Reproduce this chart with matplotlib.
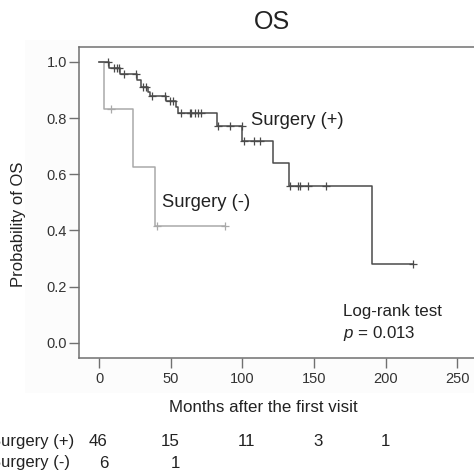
import numpy as np
import matplotlib
matplotlib.use("Agg")
import matplotlib.pyplot as plt
from matplotlib.patches import Rectangle
import matplotlib.transforms as mtransforms

plt.rcParams['font.family'] = ['Liberation Sans', 'DejaVu Sans']
plt.rcParams['mathtext.fontset'] = 'custom'
plt.rcParams['mathtext.it'] = 'Liberation Sans:italic'
plt.rcParams['mathtext.rm'] = 'Liberation Sans'

# ---- data ----
plus_times = [0, 6.6, 14.6, 26.2, 29.4, 34.0, 35.8, 46.5, 53.5, 55.4, 82.6, 100.0, 121.7, 132.4, 190.7]
plus_surv = [1.0, 0.978, 0.957, 0.936, 0.912, 0.894, 0.880, 0.861, 0.841, 0.817, 0.773, 0.720, 0.639, 0.559, 0.280]
plus_end = 219.3
plus_censor = [6.3, 10.7, 12.6, 14.2, 17.5, 25.6, 30.9, 32.6, 36.7, 46.0, 49.5, 51.9,
               57.2, 63.5, 64.2, 67.0, 69.3, 71.2, 83.3, 91.4, 99.8, 101.5, 107.8, 112.4,
               133.3, 138.7, 140.3, 146.1, 158.4, 219.3]

minus_times = [0, 3.7, 23.7, 38.9]
minus_surv = [1.0, 0.833, 0.625, 0.417]
minus_end = 87.9
minus_censor = [8.4, 40.5, 87.9]

risk_times = [0, 50, 100, 150, 200]
risk_plus = ['46', '15', '11', '3', '1']
risk_minus = ['6', '1']
yticks = [0.0, 0.2, 0.4, 0.6, 0.8, 1.0]
xticks = [0, 50, 100, 150, 200, 250]

W, H = 474, 475
fig = plt.figure(figsize=(W / 100, H / 100), dpi=100)
bg = Rectangle((25 / W, 1 - 393 / H), 1, (393 - 40) / H,
               transform=fig.transFigure, facecolor='#fcfcfc',
               edgecolor='none', zorder=-5)
fig.add_artist(bg)

ax = fig.add_axes([78.7 / W, 1 - 358 / H, (480 - 78.7) / W, (358 - 46.7) / H])
ax.set_zorder(2)
ax.set_xlim(-14.2, (480 - 99) / 1.433)
ax.set_ylim(-0.0545, 1.0545)

def km(ax, times, surv, end, censor, color):
    t = list(times) + [end]
    s = list(surv) + [surv[-1]]
    ax.step(t, s, where='post', color=color, lw=1.1, zorder=3)
    idx = np.searchsorted(times, censor, side='right') - 1
    cy = np.array(surv)[idx]
    ax.plot(censor, cy, linestyle='none', marker='+', ms=6, mew=0.9, color=color, zorder=4)

km(ax, minus_times, minus_surv, minus_end, minus_censor, '#a9a9a9')
km(ax, plus_times, plus_surv, plus_end, plus_censor, '#4a4a4a')

spc = '#707070'
for s in ['left', 'bottom', 'top']:
    ax.spines[s].set_color(spc)
    ax.spines[s].set_linewidth(1.1)
ax.spines['right'].set_visible(False)

ax.set_yticks(yticks)
ax.set_yticklabels([f'{v:.1f}' for v in yticks])
ax.set_xticks(xticks)
ax.set_xticklabels([str(v) for v in xticks])
ax.tick_params(axis='y', length=7.5, width=1.0, color=spc, labelsize=10.5, pad=1, labelcolor='#333333')
ax.tick_params(axis='x', length=7, width=1.0, color=spc, labelsize=10.5, pad=3, labelcolor='#333333')

ax.text(105.8, 0.791, 'Surgery (+)', fontsize=13.2, va='center', ha='left', color='#222222')
ax.text(43.7, 0.50, 'Surgery (-)', fontsize=13.2, va='center', ha='left', color='#222222')
ax.text(170.5, 0.110, 'Log-rank test', fontsize=12.2, va='center', ha='left', color='#222222')
ax.text(170.5, 0.033, r'$\it{p}$ = 0.013', fontsize=12.2, va='center', ha='left', color='#222222')

fig.text(272 / W, 1 - 22 / H, 'OS', fontsize=18, ha='center', va='center', color='#222222')
fig.text(19 / W, 1 - 224 / H, 'Probability of OS', fontsize=12, rotation=90,
         ha='center', va='center', color='#222222')
fig.text(263 / W, 1 - 408 / H, 'Months after the first visit', fontsize=12.2,
         ha='center', va='center', color='#222222')

# risk table
fig.text(-10 / W, 1 - 441.7 / H, 'Surgery (+)', fontsize=12, ha='left', va='center', color='#222222')
fig.text(-10 / W, 1 - 463 / H, 'Surgery (-)', fontsize=12, ha='left', va='center', color='#222222')
plus_off = [-1, 0, 4.5, 4.5, -0.5]
minus_off = [5, 4.5]
for t, lab, off in zip(risk_times, risk_plus, plus_off):
    tr = mtransforms.blended_transform_factory(ax.transData, fig.transFigure)
    tr = tr + mtransforms.ScaledTranslation(off / 100, 0, fig.dpi_scale_trans)
    fig.text(t, 1 - 441.7 / H, lab, transform=tr, fontsize=12.2, ha='center', va='center', color='#222222')
for t, lab, off in zip(risk_times, risk_minus, minus_off):
    tr = mtransforms.blended_transform_factory(ax.transData, fig.transFigure)
    tr = tr + mtransforms.ScaledTranslation(off / 100, 0, fig.dpi_scale_trans)
    fig.text(t, 1 - 463 / H, lab, transform=tr, fontsize=12.2, ha='center', va='center', color='#222222')

fig.savefig('out.png', dpi=100)
